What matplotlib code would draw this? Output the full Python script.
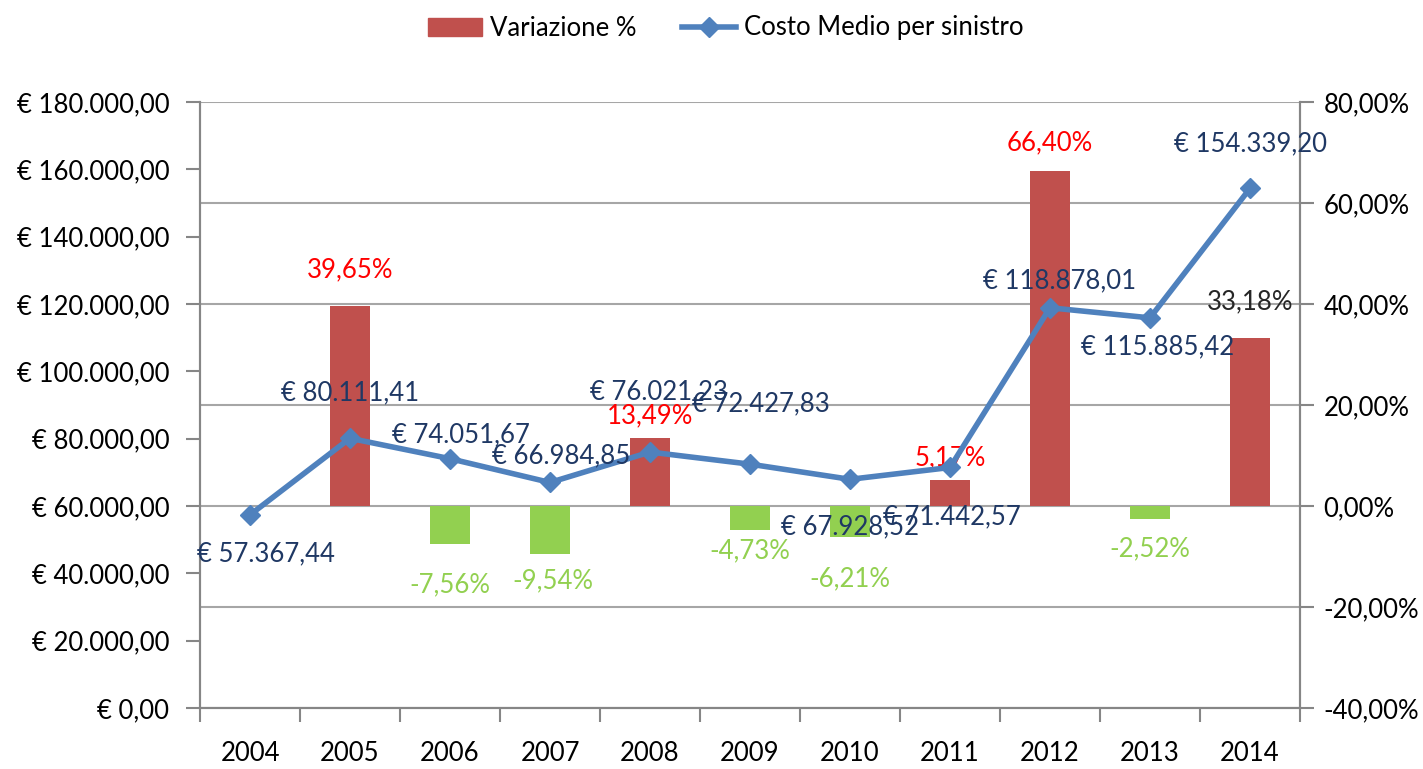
import matplotlib.pyplot as plt
from matplotlib.ticker import FuncFormatter, FixedLocator
from matplotlib.patches import Patch
from matplotlib.lines import Line2D

plt.rcParams['font.family'] = ['Lato', 'DejaVu Sans']

years = ['2004', '2005', '2006', '2007', '2008', '2009', '2010', '2011', '2012', '2013', '2014']
costo_medio = [57367.44, 80111.41, 74051.67, 66984.85, 76021.23, 72427.83,
               67928.52, 71442.57, 118878.01, 115885.42, 154339.20]
# variazione % from 2005 on (no value for 2004)
variazione = [39.65, -7.56, -9.54, 13.49, -4.73, -6.21, 5.17, 66.40, -2.52, 33.18]

# label offsets in pixels (dx, dy with dy down), tuned by eye
line_lab_off = [(16, 39), (0, -45), (11, -24), (11, -27), (9, -60), (11, -60),
                (0, 48), (2, 49), (10, -27), (8, 29), (0, -45)]
bar_lab_off = [(0, -36), (0, 41), (3, 27), (0, -22), (0, 21), (0, 41),
               (0, -22), (0, -28), (0, 30), (0, -37)]

RED = '#C0504D'
GREEN = '#92D050'
BLUE = '#4F81BD'
NAVY = '#1F3864'
GRID = '#A6A6A6'
FS = 18.5


def euro(v, pos=None):
    s = f'{v:,.2f}'.replace(',', 'X').replace('.', ',').replace('X', '.')
    return '€ ' + s


def pct(v, pos=None):
    return f'{v:.2f}'.replace('.', ',') + '%'


fig = plt.figure(figsize=(14.23, 7.69), dpi=100)
ax = fig.add_subplot(111)
fig.subplots_adjust(left=200 / 1423, right=1300 / 1423, bottom=1 - 708 / 769, top=1 - 102 / 769)
axr = ax.twinx()
ax.set_zorder(axr.get_zorder() + 1)
ax.patch.set_visible(False)

x = list(range(len(years)))
xb = x[1:]

# bars on the right (percent) axis
bar_colors = [RED if v >= 0 else GREEN for v in variazione]
axr.bar(xb, variazione, width=0.4, color=bar_colors, zorder=2)
axr.set_ylim(-40, 80)
axr.yaxis.set_major_locator(FixedLocator([-40, -20, 0, 20, 40, 60, 80]))
axr.yaxis.set_major_formatter(FuncFormatter(pct))
axr.grid(axis='y', color=GRID, linewidth=1.5, zorder=0)
axr.set_axisbelow(True)

for xi, v, (dx, dy) in zip(xb, variazione, bar_lab_off):
    if v >= 0:
        col = '#FF0000'
    else:
        col = GREEN
    if xi == 10:
        col = '#262626'
    axr.annotate(pct(v), (xi, v), xytext=(dx, -dy), textcoords='offset pixels',
                 ha='center', va='center', fontsize=FS, color=col, zorder=3)

# line on the left (euro) axis
ax.plot(x, costo_medio, color=BLUE, linewidth=4, marker='D', markersize=10,
        zorder=4)
ax.set_ylim(0, 180000)
ax.yaxis.set_major_locator(FixedLocator(range(0, 180001, 20000)))
ax.yaxis.set_major_formatter(FuncFormatter(euro))

for xi, v, (dx, dy) in zip(x, costo_medio, line_lab_off):
    ax.annotate(euro(v), (xi, v), xytext=(dx, -dy), textcoords='offset pixels',
                ha='center', va='center', fontsize=FS, color=NAVY, zorder=5)

# x axis: ticks between categories, labels at centres
ax.set_xlim(-0.5, 10.5)
ax.set_xticks([i - 0.5 for i in range(12)])
ax.set_xticklabels([])
ax.set_xticks(x, minor=True)
ax.set_xticklabels(years, minor=True)
ax.tick_params(axis='x', which='major', length=10, width=1.5, color='#868686', direction='out')
ax.tick_params(axis='x', which='minor', length=0, pad=24, labelsize=FS)

ax.tick_params(axis='y', length=10, width=1.5, color='#868686', pad=12, labelsize=FS)
axr.tick_params(axis='y', length=10, width=1.5, color='#868686', pad=7, labelsize=FS)

for a in (ax, axr):
    for side in ('left', 'right', 'bottom'):
        a.spines[side].set_color('#868686')
        a.spines[side].set_linewidth(1.5)
    a.spines['top'].set_visible(False)

handles = [Patch(facecolor=RED, edgecolor=RED),
           Line2D([0], [0], color=BLUE, linewidth=4, marker='D', markersize=10)]
fig.legend(handles, ['Variazione %', 'Costo Medio per sinistro'], loc='center',
           bbox_to_anchor=(0.51, 1 - 28 / 769), ncol=2, frameon=False, fontsize=FS,
           handlelength=2.1, handletextpad=0.3, columnspacing=1.8)

fig.savefig('out.png', dpi=100)
